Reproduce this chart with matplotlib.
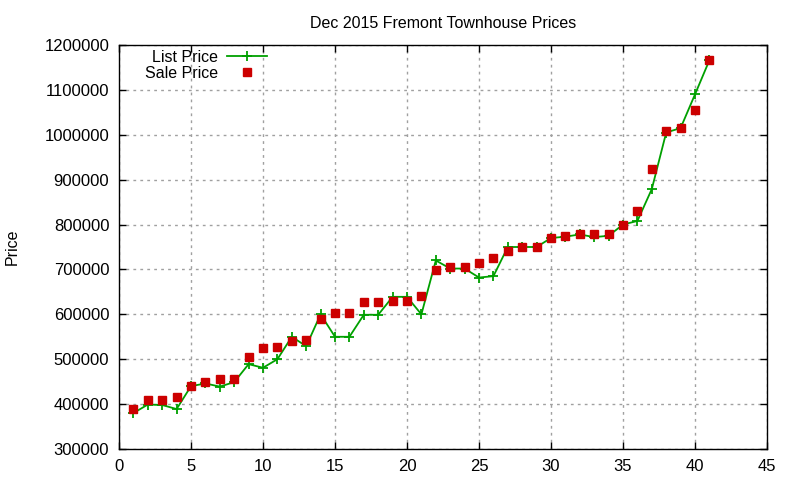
import matplotlib
matplotlib.use("Agg")
import matplotlib.pyplot as plt
from matplotlib.ticker import FuncFormatter

plt.rcParams['font.family'] = ['Liberation Sans', 'DejaVu Sans']

idx = list(range(1, 42))
list_price = [380000, 399000, 398000, 389000, 440000, 446000, 439000, 449000, 489000, 481000,
              500000, 550000, 529000, 600000, 550000, 550000, 599000, 599000, 639000, 639000,
              600000, 720000, 702000, 702000, 682000, 685000, 750000, 750000, 750000, 770000,
              773000, 778000, 772000, 775000, 800000, 808000, 879000, 1005000, 1015000, 1090000,
              1166000]
sale_price = [388000, 410000, 410000, 416000, 440000, 450000, 456000, 455000, 505000, 525000,
              528000, 541000, 543000, 589000, 603000, 603000, 628000, 628000, 630000, 630000,
              641000, 699000, 706000, 706000, 715000, 726000, 742000, 750000, 750000, 770000,
              775000, 779000, 779000, 779000, 799000, 831000, 924000, 1009000, 1015000, 1055000,
              1166000]
xticks = list(range(0, 46, 5))
yticks = list(range(300000, 1200001, 100000))

fig = plt.figure(figsize=(8, 4.8), dpi=100)
ax = fig.add_axes([119/800, 1-449/480, (767-119)/800, (449-45)/480])

ax.plot(idx, list_price, color='#00a000', lw=1.3, marker='+', ms=6.5, mew=1.3,
        label='List Price', zorder=3)
ax.plot(idx, sale_price, ls='none', marker='s', ms=5.8, color='#cc0000',
        label='Sale Price', zorder=4)

ax.set_xlim(0, 45)
ax.set_ylim(300000, 1200000)
ax.set_xticks(xticks)
ax.set_yticks(yticks)
ax.yaxis.set_major_formatter(FuncFormatter(lambda v, p: f"{int(round(v))}"))
ax.tick_params(direction='in', length=5, width=1, top=True, right=True,
               labelsize=12, pad=7)
ax.grid(True, color='#a0a0a0', lw=1, ls=(0, (2, 3)))
for s in ax.spines.values():
    s.set_linewidth(1)

ax.set_title('Dec 2015 Fremont Townhouse Prices', fontsize=11.5, pad=12)
fig.text(12/800, 1-247/480, 'Price', rotation=90, fontsize=11.5, ha='center', va='center')

leg = ax.legend(loc='upper left', bbox_to_anchor=(26/648, 1.0 - 5/404), markerfirst=False,
                frameon=False, fontsize=11.5, handlelength=2.5, handletextpad=0.55,
                labelspacing=0.05, borderaxespad=0.0, borderpad=0.0)
for t in leg.get_texts():
    t.set_ha('right')

fig.savefig('out.png', dpi=100)
